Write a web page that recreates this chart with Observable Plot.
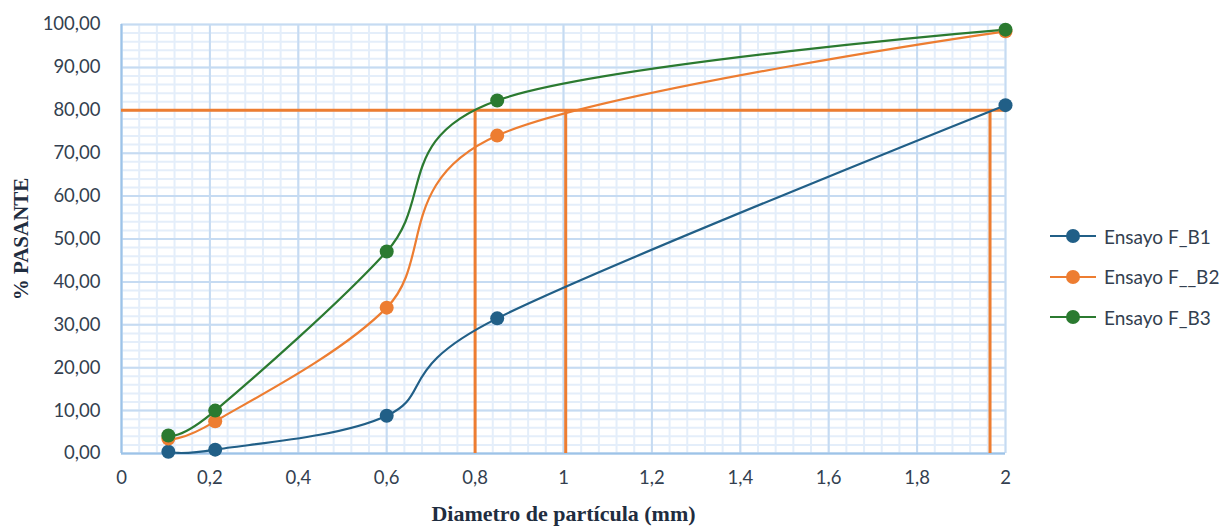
<!DOCTYPE html>
<html><head><meta charset="utf-8">
<script src="https://cdn.jsdelivr.net/npm/d3@7"></script>
<script src="https://cdn.jsdelivr.net/npm/@observablehq/plot@0.6"></script>
<style>
body{margin:0;background:#fff;}
#wrap{position:relative;width:1224px;height:526px;overflow:hidden;}
#legend{position:absolute;left:1048px;top:216px;font-family:Lato,sans-serif;font-size:19px;color:#333f50;}
.row{display:flex;align-items:center;height:40.5px;}
.row svg{margin-right:6px;}
g[aria-label="x-axis label"] text{font-family:"Liberation Serif",serif;font-weight:bold;font-size:22px;fill:#1f2d40;}
g[aria-label="y-axis label"] text{font-family:"Liberation Serif",serif;font-weight:bold;font-size:21px;fill:#1f2d40;}
</style></head><body><div id="wrap"><div id="chart"></div><div id="legend"></div></div>
<script>
const sizes = [0.106, 0.212, 0.6, 0.85, 2.0];
const seriesNames = ["Ensayo F_B1", "Ensayo F__B2", "Ensayo F_B3"];
const b1 = [0.4, 0.9, 8.8, 31.5, 81.2];
const b2 = [3.5, 7.5, 34.0, 74.1, 98.4];
const b3 = [4.2, 10.0, 47.1, 82.3, 98.8];
const colors = ["#215f87", "#ed7d31", "#2b7a30"];
const d80Level = [80];
const d80Values = [0.8, 1.005, 1.965];
const xTicks = [0, 0.2, 0.4, 0.6, 0.8, 1, 1.2, 1.4, 1.6, 1.8, 2];
const yTicks = [0, 10, 20, 30, 40, 50, 60, 70, 80, 90, 100];
const xMinor = d3.range(0, 2.0001, 0.04);
const yMinor = d3.range(0, 100.001, 2);

const seriesValues = [b1, b2, b3];
const table = seriesNames.flatMap((s, i) => sizes.map((x, j) => ({series: s, x, y: seriesValues[i][j]})));
const vlines = d80Values.map(x => ({x, y1: 0, y2: d80Level[0]}));

const fmtX = d => String(d).replace(".", ",");
const fmtY = d => d.toFixed(2).replace(".", ",");

const chart = Plot.plot({
  width: 1224, height: 526,
  marginLeft: 121, marginRight: 219, marginTop: 24, marginBottom: 73,
  style: {fontFamily: "Lato, sans-serif", fontSize: "18.5px", color: "#333f50", background: "#fff"},
  x: {domain: [0, 2]},
  y: {domain: [0, 100]},
  color: {domain: seriesNames, range: colors},
  marks: [
    Plot.gridX(xMinor, {stroke: "#e4eefa", strokeOpacity: 1, strokeWidth: 2}),
    Plot.gridY(yMinor, {stroke: "#e4eefa", strokeOpacity: 1, strokeWidth: 2}),
    Plot.gridX(xTicks, {stroke: "#c6dbf2", strokeOpacity: 1, strokeWidth: 2}),
    Plot.gridY(yTicks, {stroke: "#c6dbf2", strokeOpacity: 1, strokeWidth: 2}),
    Plot.ruleX([0], {stroke: "#9dc3e8", strokeWidth: 2}),
    Plot.ruleY([0], {stroke: "#9dc3e8", strokeWidth: 2}),
    Plot.axisX({ticks: xTicks, tickFormat: fmtX, tickSize: 0, tickPadding: 17, label: "Diametro de partícula (mm)", labelAnchor: "center", labelOffset: 67, labelArrow: false}),
    Plot.axisY({ticks: yTicks, tickFormat: fmtY, tickSize: 0, tickPadding: 21, label: "% PASANTE", labelAnchor: "center", labelOffset: 108, labelArrow: false}),
    Plot.ruleY(d80Level, {x1: 0, x2: 2, stroke: "#ed7d31", strokeWidth: 3}),
    Plot.ruleX(vlines, {x: "x", y1: "y1", y2: "y2", stroke: "#ed7d31", strokeWidth: 3}),
    Plot.line(table, {x: "x", y: "y", z: "series", stroke: "series", curve: "cardinal", strokeWidth: 2.2}),
    Plot.dot(table, {x: "x", y: "y", fill: "series", r: 7, stroke: "none"})
  ]
});
document.getElementById("chart").appendChild(chart);

const legend = document.getElementById("legend");
seriesNames.forEach((s, i) => {
  const row = document.createElement("div");
  row.className = "row";
  row.innerHTML = `<svg width="50" height="16"><line x1="2" x2="48" y1="8" y2="8" stroke="${colors[i]}" stroke-width="2.2"/><circle cx="25" cy="8" r="7" fill="${colors[i]}"/></svg><span>${s}</span>`;
  legend.appendChild(row);
});
</script>
</body></html>
